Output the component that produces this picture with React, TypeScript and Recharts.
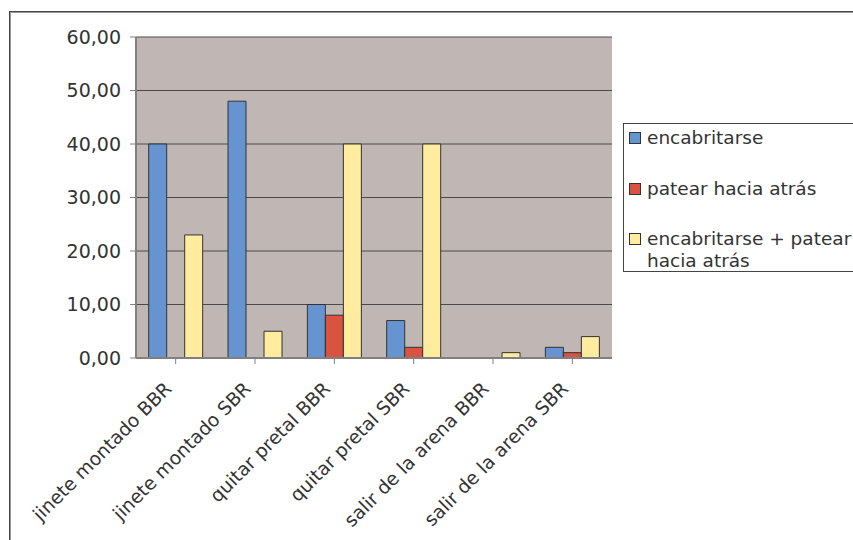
// Gráfico de barras agrupadas — reacciones por situación
import { BarChart, Bar, XAxis, YAxis, CartesianGrid, Legend } from 'recharts'

const categories = [
  'jinete montado BBR',
  'jinete montado SBR',
  'quitar pretal BBR',
  'quitar pretal SBR',
  'salir de la arena BBR',
  'salir de la arena SBR',
]
const encabritarse = [40, 48, 10, 7, 0, 2]
const patear = [0, 0, 8, 2, 0, 1]
const ambos = [23, 5, 40, 40, 1, 4]
const yTicks = [0, 10, 20, 30, 40, 50, 60]

const series = [
  { key: 'encabritarse', label: ['encabritarse'], color: '#6594D0' },
  { key: 'patear', label: ['patear hacia atrás'], color: '#D85340' },
  { key: 'ambos', label: ['encabritarse + patear', 'hacia atrás'], color: '#FFEC9E' },
]

const data = categories.map((c, i) => ({
  name: c,
  encabritarse: encabritarse[i],
  patear: patear[i],
  ambos: ambos[i],
}))

const FONT = '"DejaVu Sans", Verdana, sans-serif'
const TEXT = '#333'

function CatTick({ x, y, payload }: any) {
  return (
    <g transform={`translate(${x - 3},${y + 24})`}>
      <text textAnchor="end" transform="rotate(-45)" fill={TEXT} fontSize={18.7} fontFamily={FONT}>
        {payload.value}
      </text>
    </g>
  )
}

function LegendBox() {
  return (
    <div
      style={{
        width: 260,
        height: 149,
        border: '1px solid #444',
        background: '#fff',
        boxSizing: 'border-box',
        fontFamily: FONT,
        fontSize: 18.5,
        color: TEXT,
        paddingLeft: 5,
        paddingTop: 3,
      }}
    >
      {series.map((s, i) => (
        <div key={s.key} style={{ display: 'flex', alignItems: 'flex-start', height: 50.5, lineHeight: '22px' }}>
          <span
            style={{
              width: 12,
              height: 12,
              background: s.color,
              border: '1px solid #333',
              boxSizing: 'border-box',
              marginTop: 5,
              marginRight: 6,
              flex: 'none',
            }}
          />
          <span>
            {s.label.map(l => (
              <div key={l} style={{ whiteSpace: 'nowrap' }}>{l}</div>
            ))}
          </span>
        </div>
      ))}
    </div>
  )
}

export default function App() {
  return (
    <div style={{ position: 'fixed', left: 0, top: 0, width: 853, height: 540, background: '#fff', overflow: 'hidden' }}>
      <div
        style={{
          position: 'absolute',
          left: 9,
          top: 11,
          width: 900,
          height: 600,
          border: '1px solid #444',
          boxShadow: 'inset 1px 1px 0 #999',
        }}
      />
      <div style={{ position: 'absolute', left: 0, top: 0 }}>
        <BarChart
          width={853}
          height={540}
          data={data}
          margin={{ top: 37, right: 241, bottom: 32, left: 10 }}
          barCategoryGap="16%"
          barGap={0}
        >
          <CartesianGrid fill="#C0B7B4" stroke="#4a4a4a" vertical={false} />
          <XAxis
            dataKey="name"
            height={150}
            interval={0}
            tick={<CatTick />}
            axisLine={{ stroke: '#808080', strokeWidth: 2 }}
            tickLine={{ stroke: '#808080' }}
            tickSize={6}
          />
          <YAxis
            domain={[0, 60]}
            ticks={yTicks}
            width={126}
            tickFormatter={(v: number) => v.toFixed(2).replace('.', ',')}
            tick={{ fill: TEXT, fontSize: 19, fontFamily: FONT }}
            axisLine={{ stroke: '#808080', strokeWidth: 2 }}
            tickLine={{ stroke: '#808080' }}
            tickSize={6}
            tickMargin={9}
            interval={0}
          />
          <YAxis yAxisId="r" orientation="right" width={0} tick={false} tickLine={false} axisLine={{ stroke: '#999' }} />
          <Legend
            layout="vertical"
            align="center"
            verticalAlign="middle"
            content={<LegendBox />}
            wrapperStyle={{ left: 623, top: 123, width: 260 }}
          />
          {series.map(s => (
            <Bar
              key={s.key}
              dataKey={s.key}
              name={s.label.join(' ')}
              fill={s.color}
              stroke="#333"
              strokeWidth={1}
              isAnimationActive={false}
            />
          ))}
        </BarChart>
      </div>
    </div>
  )
}
